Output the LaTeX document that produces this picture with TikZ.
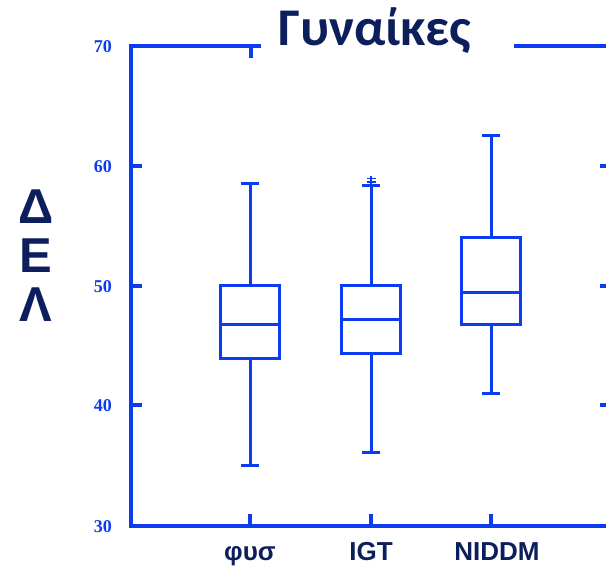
\documentclass[tikz,border=0pt]{standalone}
\usepackage{fontspec}
\setmainfont{Liberation Sans}
\newfontfamily\titlefont{Carlito}
\newfontfamily\numfont{Liberation Serif}
\definecolor{axblue}{HTML}{0B3CF0}
\definecolor{navy}{HTML}{0C1E5B}
\tikzset{
  axisline/.style={draw=axblue, line width=3.3pt},
  boxline/.style={draw=axblue, line width=3pt},
  ticklabel/.style={font=\numfont\bfseries\fontsize{18}{18}\selectfont, text=axblue, anchor=east, inner sep=0pt},
  catlabel/.style={font=\bfseries\fontsize{26}{26}\selectfont, text=navy, anchor=base, inner sep=0pt},
  ylab/.style={font=\bfseries\fontsize{49}{49}\selectfont, text=navy, anchor=center, inner sep=0pt},
  titlelab/.style={font=\titlefont\bfseries\fontsize{53}{53}\selectfont, text=navy, anchor=base, inner sep=0pt}
}
\begin{document}
\begin{tikzpicture}[x=1pt,y=-1pt]
\useasboundingbox (0,0) rectangle (606,569);
% axes
\draw[axisline] (261,46) -- (131,46) -- (131,526) -- (612,526);
\draw[axisline] (514,46) -- (612,46);
% left ticks
\foreach \v in {46,166,286,405}{ \draw[axisline] (131,\v) -- (142,\v); }
% right ticks
\foreach \v in {166,286,405}{ \draw[axisline] (600,\v) -- (612,\v); }
% bottom ticks
\foreach \x in {250,371,491}{ \draw[axisline] (\x,526) -- (\x,514); }
% top tick
\draw[axisline] (251,46) -- (251,58);
% tick labels
\node[ticklabel] (t70) at (112,47) {70};
\node[ticklabel] (t60) at (112,167) {60};
\node[ticklabel] (t50) at (112,287) {50};
\node[ticklabel] (t40) at (112,406) {40};
\node[ticklabel] (t30) at (112,527) {30};
% boxes
\foreach \c/\q/\m/\r/\hi/\lo in {250/286/325/359/184/466, 371/286/320/354/186/453, 491/238/293/325/136/394}{
  \draw[boxline] (\c-29.5,\q) rectangle (\c+29.5,\r);
  \draw[boxline] (\c-29.5,\m) -- (\c+29.5,\m);
  \draw[boxline] (\c,\q) -- (\c,\hi);
  \draw[boxline] (\c-9,\hi) -- (\c+9,\hi);
  \draw[boxline] (\c,\r) -- (\c,\lo);
  \draw[boxline] (\c-9,\lo) -- (\c+9,\lo);
}
% outlier marks (IGT)
\draw[draw=axblue, line width=2pt] (371,176) -- (371,186);
\draw[draw=axblue, line width=1.4pt] (366.5,178.5) -- (375.5,178.5) (366.5,182) -- (375.5,182);
% y-axis label
\node[ylab] (d) at (36,207) {Δ};
\node[ylab] (e) at (36,256) {Ε};
\node[ylab] (l) at (36,305) {Λ};
% category labels
\node[catlabel] (c1) at (250,561) {φυσ};
\node[catlabel] (c2) at (371,561) {IGT};
\node[catlabel] (c3) at (497,561) {NIDDM};
% title
\node[titlelab] (title) at (375,46) {Γυναίκες};
\end{tikzpicture}
\end{document}
